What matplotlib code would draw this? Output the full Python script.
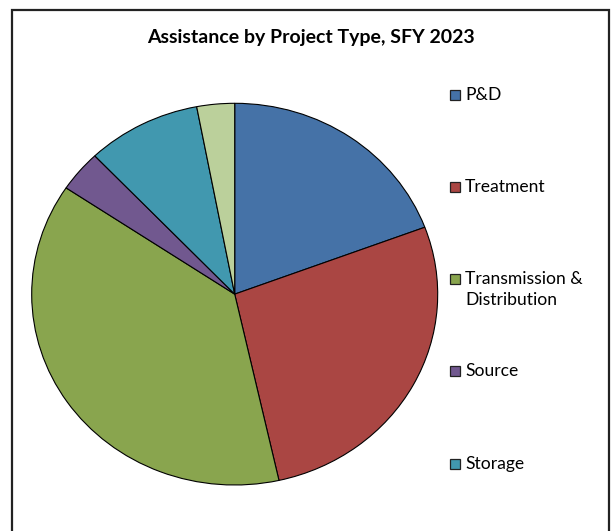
import matplotlib
matplotlib.use("Agg")
import matplotlib.pyplot as plt
from matplotlib.patches import Rectangle

# shares (percent of total assistance)
categories = ["P&D", "Treatment", "Transmission &\nDistribution", "Source", "Storage", "Other"]
shares = [19.3, 27.2, 37.9, 3.5, 9.1, 3.0]
colors = ["#4572A7", "#AA4643", "#89A54E", "#71588F", "#4198AF", "#BBD09B"]
# only the first five legend entries fit inside the cropped frame
legend_count = 5

W, H = 611, 531
plt.rcParams["font.family"] = ["Lato", "DejaVu Sans"]

fig = plt.figure(figsize=(W / 100, H / 100), dpi=100)
fig.patch.set_facecolor("white")

# chart frame (bottom edge runs off the image)
fig.add_artist(Rectangle((12 / W, -0.05), (609 - 12) / W, (H - 10) / H + 0.05,
                         transform=fig.transFigure, fill=False,
                         edgecolor="#222222", linewidth=1.6))

fig.text(311 / W, 1 - 37 / H, "Assistance by Project Type, SFY 2023",
         ha="center", va="center", fontsize=14, fontweight="bold", color="black")

# pie is drawn slightly wider than tall, as in the reference
left, right, top, bottom = 31.7, 437.7, 103.3, 485.0
ax = fig.add_axes([left / W, 1 - bottom / H, (right - left) / W, (bottom - top) / H])
ax.pie(shares, colors=colors, startangle=90, counterclock=False,
       wedgeprops=dict(edgecolor="black", linewidth=0.8))
ax.set_aspect("auto")
ax.set_xlim(-1, 1)
ax.set_ylim(-1, 1)
ax.axis("off")

for i in range(legend_count):
    y = 94.5 + i * 92.3
    fig.add_artist(Rectangle((450 / W, 1 - (y + 5) / H), 10 / W, 10 / H,
                             transform=fig.transFigure, facecolor=colors[i],
                             edgecolor="#222222", linewidth=0.9))
    fig.text(465 / W, 1 - (y - 8) / H, categories[i], ha="left", va="top",
             fontsize=12.6, color="black", linespacing=1.35)

fig.savefig("out.png", dpi=100)
